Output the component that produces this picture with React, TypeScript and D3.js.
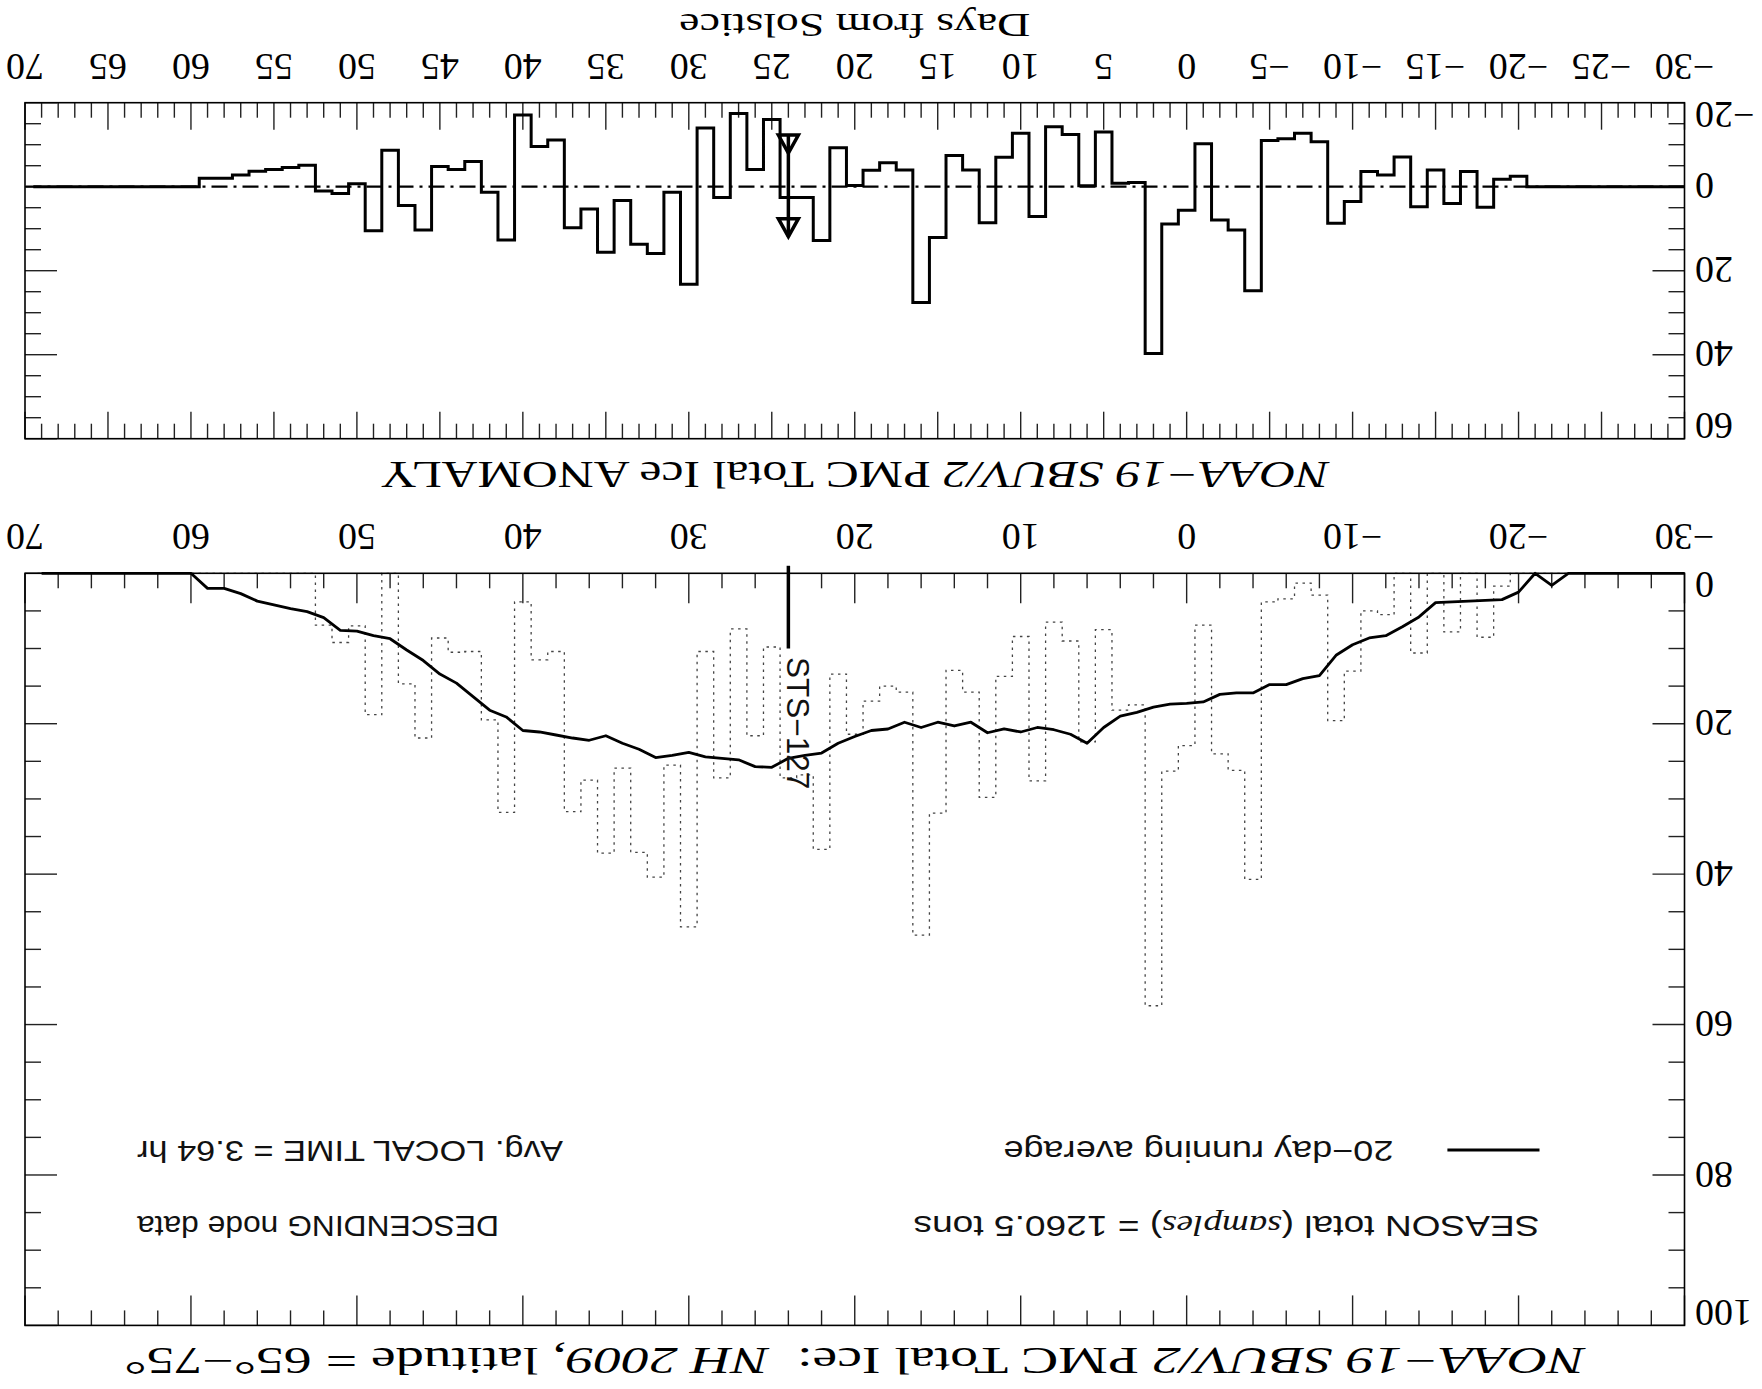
import React from 'react';
import * as d3 from 'd3';

const W = 1762;
const H = 1389;

// Days from solstice, -30 .. 69
const days: number[] = d3.range(-30, 70);

// 20-day running average, days -30..69
const runningAvg: number[] = [
  0, 0, 0, 0, 0, 0, 0, 0, 1.6, 0,
  2.5, 3.5, 3.6, 3.7, 3.8, 3.9, 5.8, 7.1, 8.3, 8.6,
  9.5, 10.9, 13.6, 14.0, 14.8, 14.8, 15.9, 15.9, 16.1, 17.1,
  17.3, 17.4, 17.8, 18.5, 19.0, 20.5, 22.6, 21.4, 20.8, 20.5,
  21.1, 20.7, 21.2, 19.8, 20.3, 19.8, 20.5, 19.8, 20.7, 20.9,
  21.7, 22.6, 23.9, 24.2, 24.6, 25.8, 25.7, 24.8, 24.6, 24.4,
  23.8, 24.2, 24.5, 23.4, 22.6, 21.6, 22.2, 21.9, 21.5, 21.1,
  20.9, 19.1, 18.2, 16.4, 14.6, 13.4, 11.6, 10.2, 8.7, 8.3,
  7.7, 7.6, 5.9, 5.1, 4.7, 4.2, 3.7, 2.7, 2.0, 2.0,
  0, 0, 0, 0, 0, 0, 0, 0, 0, 0,
];

// Anomaly (daily - running average), days -30..69
const anomaly: number[] = [
  0, 0, 0, 0, 0, 0, 0, 0, 0, 0,
  -2.5, -1.8, 4.9, -3.6, 4.0, -4.0, 4.8, -7.1, -2.8, -3.6,
  3.5, 8.7, -10.7, -12.7, -11.4, -11.0, 24.8, 10.3, 7.9, -10.2,
  5.6, 8.9, 39.7, -1.0, -0.8, -13.0, -0.2, -12.4, -14.3, 7.1,
  -12.7, -7.0, 8.6, -4.0, -7.4, 12.1, 27.6, -4.0, -5.7, -3.9,
  -0.3, -9.3, 12.8, 2.6, 2.6, -16.0, -4.1, -17.4, 2.6, -14.0,
  23.2, 1.3, 15.9, 13.7, 3.3, 15.6, 5.3, 9.8, -11.1, -9.6,
  -17.1, 12.7, 1.3, -6.0, -4.1, -4.8, 10.3, 4.5, -8.7, 10.5,
  -0.7, 1.6, 1.0, -5.1, -4.6, -4.1, -3.7, -2.8, -2.0, -2.0,
  0, 0, 0, 0, 0, 0, 0, 0, 0, 0,
];

// Daily total ice samples, days -30..69
const dailyIce: number[] = [
  0, 0, 0, 0, 0, 0, 0, 0, 0, 0,
  0, 1.7, 8.5, 0, 7.8, 0, 10.6, 0, 5.5, 5.0,
  13.0, 19.6, 2.9, 1.3, 3.4, 3.8, 40.7, 26.2, 24.0, 6.9,
  22.9, 26.3, 57.5, 17.5, 18.2, 7.5, 22.4, 9.0, 6.5, 27.6,
  8.4, 13.7, 29.8, 15.8, 12.9, 31.9, 48.1, 15.8, 15.0, 17.0,
  21.4, 13.4, 36.7, 26.8, 27.2, 9.8, 21.6, 7.4, 27.2, 10.4,
  47.0, 25.5, 40.4, 37.1, 25.9, 37.2, 27.5, 31.7, 10.4, 11.5,
  3.8, 31.8, 19.5, 10.4, 10.5, 8.6, 21.9, 14.7, 0, 18.8,
  7.0, 9.2, 6.9, 0, 0, 0, 0, 0, 0, 0,
  0, 0, 0, 0, 0, 0, 0, 0, 0, 0,
];

const xLabelsAnom: number[] = [-30, -25, -20, -15, -10, -5, 0, 5, 10, 15, 20, 25, 30, 35, 40, 45, 50, 55, 60, 65, 70];
const xLabelsMain: number[] = [-30, -20, -10, 0, 10, 20, 30, 40, 50, 60, 70];
const yLabelsMain: number[] = [0, 20, 40, 60, 80, 100];
const yLabelsAnom: number[] = [-20, 0, 20, 40, 60];

const stsDay = 24;
const stsLineRange: [number, number] = [-1, 10];
const stsArrowRange: [number, number] = [-12.3, 11.9];

const fmt = (v: number) => (v < 0 ? '\u2212' + Math.abs(v) : String(v));

const SERIF = '"Liberation Serif", "Times New Roman", serif';
const SANS = '"Liberation Sans", Arial, sans-serif';

export default function App() {
  const xS = d3.scaleLinear().domain([-30, 70]).range([77.5, 1737]);
  const yM = d3.scaleLinear().domain([0, 100]).range([815.7, 63.6]);
  const yA = d3.scaleLinear().domain([-20, 60]).range([1286.3, 950.3]);

  const stepPts = (vals: number[]): [number, number][] =>
    days.flatMap((d, i) => [[d - 0.5, vals[i]], [d + 0.5, vals[i]]] as [number, number][]);

  const lineM = d3.line<[number, number]>().x(p => xS(p[0])).y(p => yM(p[1]));
  const lineA = d3.line<[number, number]>().x(p => xS(p[0])).y(p => yA(p[1]));

  const dailyPath = lineM(stepPts(dailyIce)) || '';
  const anomPath = lineA(stepPts(anomaly)) || '';
  const avgPath = lineM(days.map((d, i) => [d, runningAvg[i]] as [number, number])) || '';

  const [xl, xr] = xS.range();
  const mTop = yM(100), mBot = yM(0);
  const aTop = yA(60), aBot = yA(-20);

  const tickColor = '#222';
  const tw = 1.4;

  const ticks: JSX.Element[] = [];
  d3.range(-30, 71, 2).forEach(d => {
    const x = xS(d);
    const len = d % 10 === 0 ? 30 : 15;
    ticks.push(<line key={'mxb' + d} x1={x} x2={x} y1={mBot} y2={mBot - len} stroke={tickColor} strokeWidth={tw} />);
    ticks.push(<line key={'mxt' + d} x1={x} x2={x} y1={mTop} y2={mTop + len} stroke={tickColor} strokeWidth={tw} />);
  });
  d3.range(0, 101, 5).forEach(v => {
    const y = yM(v);
    const len = v % 20 === 0 ? 32 : 16;
    ticks.push(<line key={'myl' + v} x1={xl} x2={xl + len} y1={y} y2={y} stroke={tickColor} strokeWidth={tw} />);
    ticks.push(<line key={'myr' + v} x1={xr} x2={xr - len} y1={y} y2={y} stroke={tickColor} strokeWidth={tw} />);
  });
  d3.range(-30, 71, 1).forEach(d => {
    const x = xS(d);
    const len = d % 5 === 0 ? 27 : 15;
    ticks.push(<line key={'axb' + d} x1={x} x2={x} y1={aBot} y2={aBot - len} stroke={tickColor} strokeWidth={tw} />);
    ticks.push(<line key={'axt' + d} x1={x} x2={x} y1={aTop} y2={aTop + len} stroke={tickColor} strokeWidth={tw} />);
  });
  d3.range(-20, 61, 5).forEach(v => {
    const y = yA(v);
    const len = v % 20 === 0 ? 32 : 16;
    ticks.push(<line key={'ayl' + v} x1={xl} x2={xl + len} y1={y} y2={y} stroke={tickColor} strokeWidth={tw} />);
    ticks.push(<line key={'ayr' + v} x1={xr} x2={xr - len} y1={y} y2={y} stroke={tickColor} strokeWidth={tw} />);
  });

  const xSts = xS(stsDay);
  const triBaseA = yA(stsArrowRange[0]);
  const triApexB = yA(stsArrowRange[1]);
  const tri = (apexY: number, baseY: number) =>
    `M${xSts - 10},${baseY} L${xSts + 10},${baseY} L${xSts},${apexY} Z`;

  const labelSize = 38;
  const yLabX = 67;

  return (
    <svg width={W} height={H} viewBox={`0 0 ${W} ${H}`}
      style={{ position: 'absolute', left: 0, top: 0, display: 'block', background: '#fff' }}>
      <rect x={0} y={0} width={W} height={H} fill="#fff" />
      <defs>
        <clipPath id="clipX">
          <rect x={xl} y={0} width={xr - xl} height={H} />
        </clipPath>
      </defs>
      <g transform={`rotate(180 ${W / 2} ${H / 2})`}>
        {/* Title main */}
        <text x={(xl + xr) / 2} y={41} textAnchor="middle" fontFamily={SERIF} fontSize={38}
          textLength={1461} lengthAdjust="spacingAndGlyphs" fill="#000">
          <tspan fontStyle="italic">NOAA{'\u2212'}19 SBUV/2</tspan>
          <tspan> PMC Total Ice:{'\u00a0\u00a0'}</tspan>
          <tspan fontStyle="italic">NH 2009</tspan>
          <tspan>, latitude = 65°{'\u2212'}75°</tspan>
        </text>

        {/* Main panel */}
        <g clipPath="url(#clipX)">
          <path d={dailyPath} fill="none" stroke="#444" strokeWidth={1.3} strokeDasharray="2.5 4.5" />
        </g>
        {ticks}
        <rect x={xl} y={mTop} width={xr - xl} height={mBot - mTop} fill="none" stroke="#000" strokeWidth={1.6} />
        <rect x={xl} y={aTop} width={xr - xl} height={aBot - aTop} fill="none" stroke="#000" strokeWidth={1.6} />
        <path d={avgPath} fill="none" stroke="#000" strokeWidth={2.8} strokeLinejoin="round" />

        {/* STS-127 marker */}
        <line x1={xSts} x2={xSts} y1={yM(stsLineRange[0])} y2={yM(stsLineRange[1])} stroke="#000" strokeWidth={3.5} />
        <text transform={`translate(${xSts + 1.5},${yM(stsLineRange[1]) - 8.5}) rotate(-90)`}
          fontFamily={SANS} fontSize={31.5} fill="#111" textAnchor="start">STS{'\u2212'}127</text>

        {/* Legend */}
        <line x1={222.5} x2={314.6} y1={239} y2={239} stroke="#000" strokeWidth={3} />
        <text x={368.6} y={248} fontFamily={SANS} fontSize={30} fill="#111"
          textLength={390} lengthAdjust="spacingAndGlyphs">20{'\u2212'}day running average</text>
        <text x={222.5} y={173} fontFamily={SANS} fontSize={30} fill="#111"
          textLength={626} lengthAdjust="spacingAndGlyphs">
          <tspan>SEASON total (</tspan>
          <tspan fontFamily={SERIF} fontStyle="italic">samples</tspan>
          <tspan>) = 1260.5 tons</tspan>
        </text>
        <text x={1625} y={248} fontFamily={SANS} fontSize={30} fill="#111" textAnchor="end"
          textLength={426} lengthAdjust="spacingAndGlyphs">Avg. LOCAL TIME = 3.64 hr</text>
        <text x={1625} y={173} fontFamily={SANS} fontSize={30} fill="#111" textAnchor="end"
          textLength={362} lengthAdjust="spacingAndGlyphs">DESCENDING node data</text>

        {/* Main axis labels */}
        {xLabelsMain.map(d => (
          <text key={'mxl' + d} x={xS(d)} y={mBot + 49} textAnchor="middle" fontFamily={SERIF}
            fontSize={labelSize} fill="#000">{fmt(d)}</text>
        ))}
        {yLabelsMain.map((v, i) => {
          const off = i === 0 ? -12 : i === yLabelsMain.length - 1 ? 12 : 0;
          return (
            <text key={'myl' + v} x={yLabX} y={yM(v) + off} dy="0.35em" textAnchor="end" fontFamily={SERIF}
              fontSize={labelSize} fill="#000">{fmt(v)}</text>
          );
        })}

        {/* Anomaly panel title */}
        <text x={(xl + xr) / 2} y={927} textAnchor="middle" fontFamily={SERIF} fontSize={38}
          textLength={949} lengthAdjust="spacingAndGlyphs" fill="#000">
          <tspan fontStyle="italic">NOAA{'\u2212'}19 SBUV/2</tspan>
          <tspan> PMC Total Ice ANOMALY</tspan>
        </text>

        {/* Anomaly panel */}
        <line x1={xl} x2={xr} y1={yA(0)} y2={yA(0)} stroke="#000" strokeWidth={2.2} strokeDasharray="16 6 3 6" />
        <g clipPath="url(#clipX)">
          <path d={anomPath} fill="none" stroke="#000" strokeWidth={3} />
        </g>
        <line x1={xSts} x2={xSts} y1={triBaseA} y2={triApexB} stroke="#000" strokeWidth={3.5} />
        <path d={tri(triBaseA - 18, triBaseA)} fill="none" stroke="#000" strokeWidth={3.5} strokeLinejoin="miter" />
        <path d={tri(triApexB, triApexB + 18)} fill="none" stroke="#000" strokeWidth={3.5} strokeLinejoin="miter" />

        {xLabelsAnom.map(d => (
          <text key={'axl' + d} x={xS(d)} y={aBot + 49} textAnchor="middle" fontFamily={SERIF}
            fontSize={labelSize} fill="#000">{fmt(d)}</text>
        ))}
        {yLabelsAnom.map((v, i) => {
          const off = i === 0 ? -13 : i === yLabelsAnom.length - 1 ? 12 : 0;
          return (
            <text key={'ayl' + v} x={yLabX} y={yA(v) + off} dy="0.35em" textAnchor="end" fontFamily={SERIF}
              fontSize={labelSize} fill="#000">{fmt(v)}</text>
          );
        })}
        <text x={(xl + xr) / 2} y={1375} textAnchor="middle" fontFamily={SERIF} fontSize={34}
          textLength={351} lengthAdjust="spacingAndGlyphs" fill="#000">Days from Solstice</text>
      </g>
    </svg>
  );
}
